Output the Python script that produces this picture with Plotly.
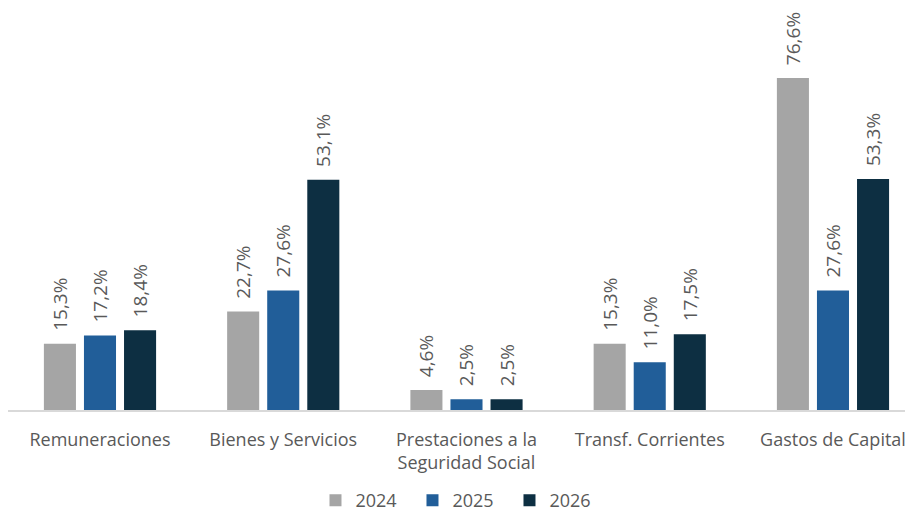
import plotly.graph_objects as go

categories = ["Remuneraciones", "Bienes y Servicios", "Prestaciones a la<br>Seguridad Social",
              "Transf. Corrientes", "Gastos de Capital"]
years = ["2024", "2025", "2026"]
v2024 = [15.3, 22.7, 4.6, 15.3, 76.6]
v2025 = [17.2, 27.6, 2.5, 11.0, 27.6]
v2026 = [18.4, 53.1, 2.5, 17.5, 53.3]
colors = ["#A5A5A5", "#215E99", "#0D2F42"]

fig = go.Figure()
for name, vals, col in zip(years, [v2024, v2025, v2026], colors):
    fig.add_trace(go.Bar(
        x=categories, y=vals, name=name, marker_color=col, marker_line_width=0,
        text=["\u00a0\u00a0" + f"{v:.1f}%".replace(".", ",") for v in vals],
        textposition="outside", textangle=-90, constraintext="none",
        textfont=dict(family="Open Sans", size=19, color="#595959"),
        cliponaxis=False,
    ))

fig.update_layout(
    width=897, height=511,
    margin=dict(l=0, r=0, t=0, b=109),
    plot_bgcolor="white", paper_bgcolor="white",
    barmode="group", bargap=0.344, bargroupgap=0.2,
    font=dict(family="Open Sans", color="#595959"),
    showlegend=True,
    legend=dict(orientation="h", x=0.505, xanchor="center", yref="container", y=-0.012,
                yanchor="bottom", font=dict(size=18, color="#595959"),
                entrywidth=52, traceorder="normal"),
)
fig.update_xaxes(range=[-0.502, 4.393], showline=True, linecolor="#D9D9D9", linewidth=2,
                 ticks="outside", ticklen=12, tickcolor="rgba(0,0,0,0)",
                 tickfont=dict(size=18, color="#595959"), showgrid=False)
fig.update_yaxes(range=[0, 92.75], visible=False, showgrid=False, zeroline=False)

fig.write_html("out.html")
